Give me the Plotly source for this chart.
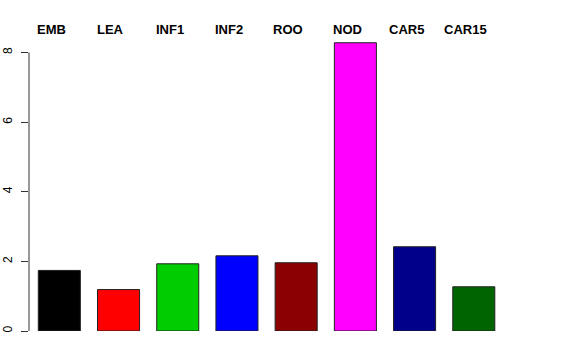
import plotly.graph_objects as go

categories = ["EMB", "LEA", "INF1", "INF2", "ROO", "NOD", "CAR5", "CAR15"]
values = [1.74, 1.19, 1.93, 2.16, 1.96, 8.28, 2.42, 1.27]
colors = ["#000000", "#FF0000", "#00CD00", "#0000FF", "#8B0000", "#FF00FF", "#00008B", "#006400"]
y_ticks = [0, 2, 4, 6, 8]

xpos = list(range(len(categories)))

fig = go.Figure()
fig.add_trace(go.Bar(
    x=xpos, y=values,
    marker=dict(color=colors, line=dict(color="#222222", width=1)),
    width=0.71,
    hoverinfo="skip",
))

for xi, lab in zip(xpos, categories):
    fig.add_annotation(x=xi, y=1.0, xref="x", yref="paper", yshift=12, xshift=-8,
                       yanchor="middle", xanchor="center",
                       text="<b>%s</b>" % lab, showarrow=False,
                       font=dict(family="Liberation Sans, Arial", size=13, color="black"))

fig.add_shape(type="line", xref="paper", yref="y", x0=0, x1=0, y0=0, y1=8,
              line=dict(color="#333333", width=1))

fig.update_layout(
    width=576, height=360,
    margin=dict(l=29, r=43, t=41, b=29, autoexpand=False),
    paper_bgcolor="white", plot_bgcolor="white",
    showlegend=False,
    font=dict(family="Liberation Sans, Arial", color="black"),
    xaxis=dict(range=[-0.512, 8.0], showticklabels=False, showgrid=False,
               zeroline=False, showline=False, ticks="", automargin=False),
    yaxis=dict(range=[0, 8.33], tickvals=y_ticks, ticktext=[str(t) for t in y_ticks],
               tickangle=-90, ticks="outside", ticklen=7, tickcolor="#333333",
               showgrid=False, zeroline=False, showline=False, automargin=False,
               tickfont=dict(size=12, color="black"), ticklabelstandoff=4),
)

fig.write_html("out.html", config={"displayModeBar": False},
               post_script="document.body.style.margin='0';document.body.style.overflow='hidden';")
